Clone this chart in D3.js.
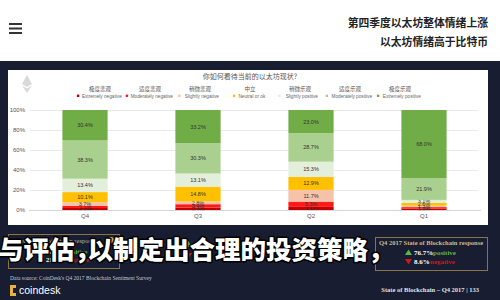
<!DOCTYPE html>
<html>
<head>
<meta charset="utf-8">
<script src="https://cdn.jsdelivr.net/npm/d3@7"></script>
<style>
  body { margin: 0; padding: 0; background: #fff; }
  svg { display: block; }
</style>
</head>
<body>
<script>
// quarters (left to right as in the picture)
var quarters = ["Q4", "Q3", "Q2", "Q1"];

// sentiment series, bottom to top
var seriesKeys = ["extNeg", "modNeg", "slightNeg", "neutral", "slightPos", "modPos", "extPos"];
var seriesCn = ["极度悲观", "适度悲观", "稍微悲观", "中立", "稍微乐观", "适度乐观", "极度乐观"];
var seriesEn = ["Extremely negative", "Moderately negative", "Slightly negative", "Neutral or ok",
                "Slightly positive", "Moderately positive", "Extremely positive"];

// percentages per series, one per quarter (Q4, Q3, Q2, Q1)
var extNeg    = [2.0, 2.4, 3.1, 1.3];
var modNeg    = [2.1, 3.4, 5.3, 1.6];
var slightNeg = [3.7, 2.8, 11.7, 1.5];
var neutral   = [10.1, 14.8, 12.9, 2.6];
var slightPos = [13.4, 13.1, 15.3, 3.1];
var modPos    = [38.3, 30.3, 28.7, 21.9];
var extPos    = [30.4, 33.2, 23.0, 68.0];

var yTicks = [0, 20, 40, 60, 80, 100];

var colors = ["#c00000", "#ff1a1a", "#f6c2a8", "#ffc000", "#e3eedb", "#a9d08e", "#70ad47"];

window.onload = function() {
  var width = 500, height = 300;

  var svg = d3.select("body").append("svg")
              .attr("width", width)
              .attr("height", height);

  /* page header */
  svg.append("rect").attr("x", 0).attr("y", 0).attr("width", width).attr("height", 61).attr("fill", "#ffffff");

  // hamburger icon
  [24, 28.5, 33].forEach(function(y) {
    svg.append("rect").attr("x", 9).attr("y", y - 1).attr("width", 13).attr("height", 2).attr("fill", "#333");
  });

  svg.append("text")
     .attr("x", 488).attr("y", 27)
     .attr("text-anchor", "end")
     .style("font-family", "'Noto Sans CJK SC'")
     .style("font-weight", "bold")
     .style("font-size", "10.8px")
     .attr("fill", "#222")
     .text("第四季度以太坊整体情绪上涨");

  svg.append("text")
     .attr("x", 488).attr("y", 46)
     .attr("text-anchor", "end")
     .style("font-family", "'Noto Sans CJK SC'")
     .style("font-weight", "bold")
     .style("font-size", "10.8px")
     .attr("fill", "#222")
     .text("以太坊情绪高于比特币");

  /* dark slide background */
  svg.append("rect").attr("x", 0).attr("y", 61).attr("width", width).attr("height", height - 61).attr("fill", "#181d31");

  // white chart panel
  svg.append("rect").attr("x", 8).attr("y", 70).attr("width", 480).attr("height", 155).attr("fill", "#ffffff");

  // faint ethereum logo
  var eth = svg.append("g").attr("transform", "translate(27,84)").attr("fill", "#d9d9d9");
  eth.append("path").attr("d", "M0,-9 L5,0 L0,3 L-5,0 Z");
  eth.append("path").attr("d", "M0,4.5 L5,1.5 L0,9 L-5,1.5 Z");

  // chart title
  svg.append("text")
     .attr("x", 250).attr("y", 79)
     .attr("text-anchor", "middle")
     .style("font-family", "'Noto Sans CJK SC'")
     .style("font-size", "7px")
     .attr("fill", "#555")
     .text("你如何看待当前的以太坊现状?");

  // legend
  var legendScale = d3.scaleBand().domain(seriesKeys).range([75, 425]);
  var legend = svg.selectAll(".legend")
                  .data(seriesKeys)
                  .enter().append("g")
                  .attr("class", "legend")
                  .attr("transform", function(d) {
                    return "translate(" + (legendScale(d) + legendScale.bandwidth() / 2) + ",0)";
                  });
  legend.append("text")
        .attr("y", 91)
        .attr("text-anchor", "middle")
        .style("font-family", "'Noto Sans CJK SC'")
        .style("font-size", "5.5px")
        .attr("fill", "#555")
        .text(function(d, i) { return seriesCn[i]; });
  legend.append("text")
        .attr("x", 1.8)
        .attr("y", 98)
        .attr("text-anchor", "middle")
        .style("font-family", "'Liberation Sans'")
        .style("font-size", "4.7px")
        .attr("fill", "#666")
        .text(function(d, i) { return seriesEn[i]; });
  legend.append("rect")
        .attr("x", function(d, i) { return -seriesEn[i].length * 1.2 - 1.5; })
        .attr("y", 94.6)
        .attr("width", 2.4).attr("height", 2.4)
        .attr("fill", function(d, i) { return colors[i]; });

  /* chart */
  var table = quarters.map(function(q, i) {
    return {
      quarter: q,
      extNeg: extNeg[i], modNeg: modNeg[i], slightNeg: slightNeg[i], neutral: neutral[i],
      slightPos: slightPos[i], modPos: modPos[i], extPos: extPos[i]
    };
  });

  var xScale = d3.scaleBand()
                 .domain(quarters)
                 .range([28.5, 480.5])
                 .paddingInner(0.6)
                 .paddingOuter(0.3);

  var yScale = d3.scaleLinear()
                 .domain([0, 100])
                 .range([210, 110]);

  // gridlines
  svg.append("g")
     .attr("transform", "translate(30,0)")
     .call(d3.axisLeft(yScale).tickValues(yTicks).tickSize(-448).tickFormat(""))
     .call(function(g) {
       g.select(".domain").remove();
       g.selectAll("line").attr("stroke", "#e4e4e4").attr("stroke-width", 0.8);
     });

  // y tick labels
  svg.append("g")
     .attr("transform", "translate(25,0)")
     .call(d3.axisLeft(yScale).tickValues(yTicks).tickSize(0).tickPadding(0)
             .tickFormat(function(d) { return d + "%"; }))
     .call(function(g) {
       g.select(".domain").remove();
       g.selectAll("text")
        .style("font-family", "'Liberation Sans'")
        .style("font-size", "6px")
        .attr("fill", "#555");
     });

  var stack = d3.stack().keys(seriesKeys);
  var layers = stack(table);

  var layer = svg.selectAll(".layer")
                 .data(layers)
                 .enter().append("g")
                 .attr("class", "layer")
                 .attr("fill", function(d, i) { return colors[i]; });

  layer.selectAll("rect")
       .data(function(d) { return d; })
       .enter().append("rect")
       .attr("x", function(d) { return xScale(d.data.quarter); })
       .attr("y", function(d) { return yScale(d[1]); })
       .attr("height", function(d) { return yScale(d[0]) - yScale(d[1]); })
       .attr("width", xScale.bandwidth());

  layer.selectAll("text")
       .data(function(d) { return d; })
       .enter().append("text")
       .attr("x", function(d) { return xScale(d.data.quarter) + xScale.bandwidth() / 2; })
       .attr("y", function(d) { return (yScale(d[0]) + yScale(d[1])) / 2 + 2; })
       .attr("text-anchor", "middle")
       .style("font-family", "'Liberation Sans'")
       .style("font-size", "5.5px")
       .attr("fill", "#333")
       .text(function(d) { return (d[1] - d[0]).toFixed(1) + "%"; });

  // x axis
  svg.append("g")
     .attr("transform", "translate(0,210)")
     .call(d3.axisBottom(xScale).tickSize(0).tickPadding(4))
     .call(function(g) {
       g.select(".domain").attr("stroke", "#d0d0d0").attr("stroke-width", 0.8);
       g.selectAll("text")
        .style("font-family", "'Liberation Sans'")
        .style("font-size", "6px")
        .attr("fill", "#555");
     });

  /* response boxes */
  var serif = "'Liberation Serif'";
  svg.append("rect").attr("x", 8.5).attr("y", 234.5).attr("width", 111).attr("height", 34)
     .attr("fill", "none").attr("stroke", "#8a7442").attr("stroke-width", 1);
  svg.append("text").attr("x", 13).attr("y", 243)
     .style("font-family", serif).style("font-size", "6.5px").attr("fill", "#cbb98a")
     .text("Overall state of bitcoin response");
  svg.append("circle").attr("cx", 111).attr("cy", 240).attr("r", 3).attr("fill", "#e0a030");
  svg.append("text").attr("x", 46).attr("y", 254)
     .style("font-family", serif).style("font-weight", "bold").style("font-size", "6.5px").attr("fill", "#fff")
     .text("66.3%");
  svg.append("text").attr("x", 66).attr("y", 254)
     .style("font-family", serif).style("font-weight", "bold").style("font-size", "6.5px").attr("fill", "#5cb848")
     .text("positive");
  svg.append("text").attr("x", 46).attr("y", 262)
     .style("font-family", serif).style("font-weight", "bold").style("font-size", "6.5px").attr("fill", "#fff")
     .text("21.0%");
  svg.append("text").attr("x", 66).attr("y", 262)
     .style("font-family", serif).style("font-weight", "bold").style("font-size", "6.5px").attr("fill", "#d01818")
     .text("negative");

  svg.append("rect").attr("x", 375.5).attr("y", 237.5).attr("width", 112).attr("height", 33)
     .attr("fill", "none").attr("stroke", "#8a7442").attr("stroke-width", 1);
  svg.append("text").attr("x", 379).attr("y", 245)
     .style("font-family", serif).style("font-weight", "bold").style("font-size", "6.5px").attr("fill", "#cbb98a")
     .text("Q4 2017 State of Blockchain response");
  svg.append("path").attr("d", "M405,255 L408.5,249.5 L412,255 Z").attr("fill", "#5cb848");
  svg.append("path").attr("d", "M405,259 L408.5,264.5 L412,259 Z").attr("fill", "#d01818");
  svg.append("text").attr("x", 414).attr("y", 255)
     .style("font-family", serif).style("font-weight", "bold").style("font-size", "7px").attr("fill", "#fff")
     .text("76.7%");
  svg.append("text").attr("x", 433).attr("y", 255)
     .style("font-family", serif).style("font-weight", "bold").style("font-size", "7px").attr("fill", "#5cb848")
     .text("positive");
  svg.append("text").attr("x", 414).attr("y", 264)
     .style("font-family", serif).style("font-weight", "bold").style("font-size", "7px").attr("fill", "#fff")
     .text("8.6%");
  svg.append("text").attr("x", 430).attr("y", 264)
     .style("font-family", serif).style("font-weight", "bold").style("font-size", "7px").attr("fill", "#d01818")
     .text("negative");

  // middle box triangles peeking from under the overlay text
  svg.append("path").attr("d", "M183,247 L187.5,240 L192,247 Z").attr("fill", "#5cb848");
  svg.append("path").attr("d", "M183,253 L187.5,260 L192,253 Z").attr("fill", "#d01818");

  /* footer */
  svg.append("text").attr("x", 10).attr("y", 280)
     .style("font-family", serif).style("font-size", "5.5px").attr("fill", "#c8c8c8")
     .text("Data source: CoinDesk's Q4 2017 Blockchain Sentiment Survey");

  // coindesk logo
  svg.append("path").attr("d", "M10,285 h6 v3 h-3 v5 h3 v3 h-6 Z").attr("fill", "#e8b33a");
  svg.append("text").attr("x", 19).attr("y", 294)
     .style("font-family", "'Liberation Sans'").style("font-size", "10.5px").attr("fill", "#fff")
     .text("coindesk");

  svg.append("text").attr("x", 479).attr("y", 292)
     .attr("text-anchor", "end")
     .style("font-family", serif).style("font-weight", "bold").style("font-size", "6.5px").attr("fill", "#e0e0e0")
     .text("State of Blockchain – Q4 2017     |     133");

  /* overlaid caption */
  var caption = svg.append("text")
     .attr("x", -2).attr("y", 259)
     .style("font-family", "'Noto Sans CJK SC'")
     .style("font-weight", "900")
     .style("font-size", "25.5px")
     .attr("fill", "#ffffff")
     .attr("stroke", "#000000")
     .attr("stroke-width", 3)
     .attr("paint-order", "stroke")
     .attr("stroke-linejoin", "round");
  caption.append("tspan").text("与评估，");
  caption.append("tspan").attr("dx", -12.5).text("以制定出合理的投资策略，");
};
</script>
</body>
</html>
